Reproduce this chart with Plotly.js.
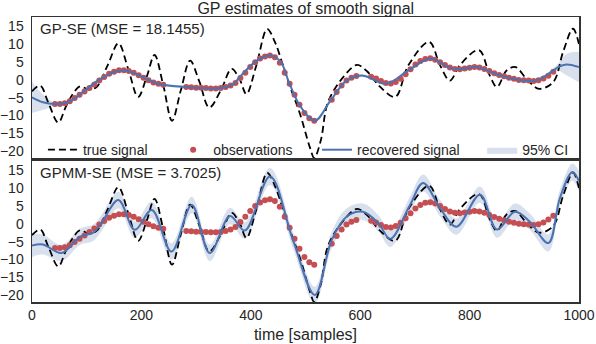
<!DOCTYPE html>
<html>
<head>
<meta charset="utf-8">
<script src="https://cdn.plot.ly/plotly-3.0.1.min.js"></script>
<style>
  html, body { margin: 0; padding: 0; background: #fff; }
  #chart { width: 596px; height: 344px; }
</style>
</head>
<body>
<div id="chart"></div>
<script>
// true signal (same in both panels), read at its turning points
var trueX = [0, 15, 30, 48, 62, 75, 88, 103, 118, 138, 158, 176, 194, 210, 224, 240, 256, 272, 289, 306, 324, 345, 365, 380, 392, 410, 430, 444, 458, 472, 490, 508, 516, 528, 541, 569, 594, 612, 636, 664, 688, 726, 746, 764, 782, 817, 837, 850, 868, 884, 904, 927, 953, 971, 989, 1000];
var trueY = [-3.2, -1.6, -6.5, -12, -7.5, -3.9, -1.8, -2.7, -2, 4, 10.3, 3, -4.8, 1, 7, -1.5, -11.5, -3, 5.4, -0.5, -7.8, -3, 3.1, 0, -4, 4, 14.3, 10.7, 4.5, -2, -9.6, -19, -22, -17, -6.3, 0.8, 4.2, 2.5, -1.9, -4.8, 4.1, 10.7, 4.1, -0.2, 4.1, 8.4, 1.2, -2, 2.7, 3.6, 0.3, -2.5, -0.6, 7.9, 14.4, 10];

// observations
var obsX = [42, 51, 60, 69, 78, 87, 96, 105, 114, 123, 132, 141, 150, 159, 168, 177, 186, 195, 204, 213, 222, 231, 240,
  282, 291, 300, 309, 318, 327, 336, 345, 354, 363, 372, 381, 390, 399, 408, 417, 426, 435, 444, 453, 462, 471, 480, 489, 498, 507, 516,
  548, 557, 566, 575, 584, 593,
  620, 629, 638, 647, 656, 665, 674, 683, 692, 701, 710, 719, 728, 737, 746, 755, 764, 773, 782, 791, 800, 809, 818, 827, 836, 845, 854, 863, 872, 881, 890, 899, 908, 917, 926, 935, 944, 953];
var obsY = [-6.8, -6.8, -6.6, -6.0, -5.1, -4.2, -3.3, -2.3, -1.3, -0.2, 0.8, 1.7, 2.3, 2.7, 2.7, 2.5, 2.0, 1.3, 0.6, -0.1, -0.7, -1.1, -1.4,
  -2.0, -2.1, -2.2, -2.2, -2.3, -2.4, -2.4, -2.3, -2.0, -1.6, -0.9, 0.5, 2.0, 3.6, 5.0, 6.0, 6.6, 6.9, 6.4, 4.8, 2.0, -1.1, -4.2, -7.0, -9.3, -10.8, -11.5,
  -5.6, -3.4, -1.6, -0.2, 0.6, 1.1,
  0.9, 0.4, -0.3, -0.9, -1.0, -0.6, 0.3, 1.6, 3.0, 4.3, 5.3, 5.9, 6.1, 5.7, 5.0, 4.2, 3.5, 3.1, 3.0, 3.2, 3.4, 3.6, 3.5, 3.1, 2.5, 1.9, 1.4, 1.0, 0.6, 0.3, 0.0, -0.1, -0.2, -0.3, -0.1, 0.4, 1.2, 2.3];

// GP-SE recovered signal and 95% CI half width
var seX = [0, 20, 42, 70, 95, 125, 165, 200, 230, 280, 340, 365, 385, 410, 437, 455, 470, 490, 517, 545, 575, 605, 648, 690, 730, 760, 780, 813, 850, 880, 920, 950, 962, 977, 1000];
var seY = [-4.9, -6.3, -6.8, -6, -3.2, 0.3, 2.7, 1.0, -1.1, -2.0, -2.4, -1.5, 1.7, 5.3, 6.9, 5.0, -0.8, -7.3, -11.5, -6.0, -0.2, 1.2, -1.1, 2.9, 6.0, 3.6, 3.0, 3.6, 1.5, 0.3, -0.2, 2.3, 3.6, 4.3, 3.6];
var seHalf = [4.4, 2.2, 0.5, 0.35, 0.35, 0.35, 0.35, 0.35, 0.35, 0.4, 0.35, 0.35, 0.35, 0.35, 0.35, 0.35, 0.35, 0.35, 0.4, 0.5, 0.4, 0.4, 0.4, 0.35, 0.35, 0.35, 0.35, 0.35, 0.35, 0.35, 0.35, 0.5, 1.0, 3.0, 4.3];

// GPMM-SE recovered signal and 95% CI half width
var mmX = [0, 20, 54, 88, 112, 127, 158, 188, 219, 255, 292, 325, 362, 389, 435, 478, 517, 548, 575, 605, 633, 655, 691, 715, 746, 776, 819, 850, 883, 910, 944, 965, 988, 1000];
var mmY = [-6.1, -5.8, -8.2, -3.6, -2.5, 0.2, 6.7, -1.7, 3.9, -7.8, 5.3, -8.2, 2.2, -1.9, 13.3, -5, -20, -4.5, 2.0, 3.4, 0.2, -4.2, 5.3, 11.5, 4.4, -0.8, 8.2, -1.6, 3.4, 0.6, -5.4, 7.2, 14.6, 12];
var mmHalf = [3.3, 2.8, 2.3, 2.3, 2.3, 2.3, 2.3, 2.3, 2.3, 2.3, 2.3, 2.3, 2.3, 2.3, 2.4, 2.3, 2.3, 2.3, 2.3, 2.3, 2.3, 2.3, 2.3, 2.4, 2.3, 2.3, 2.3, 2.3, 2.3, 2.3, 2.4, 2.3, 2.4, 2.8];

var yTicks = [-20, -15, -10, -5, 0, 5, 10, 15];
var xTicks = [0, 200, 400, 600, 800, 1000];

var black = '#000000', red = '#C44E52', blue = '#4C72B0', band = 'rgba(76,114,176,0.22)';

function addHalf(m, h, s) {
  return m.map(function (v, i) { return v + s * h[i]; });
}

function panel(xa, ya, mx, my, mh, first) {
  return [
    { x: mx, y: addHalf(my, mh, -1), xaxis: xa, yaxis: ya, type: 'scatter', mode: 'lines',
      line: { width: 0, shape: 'spline' }, showlegend: false, hoverinfo: 'skip' },
    { x: mx, y: addHalf(my, mh, 1), xaxis: xa, yaxis: ya, type: 'scatter', mode: 'lines',
      line: { width: 0, shape: 'spline' }, fill: 'tonexty', fillcolor: band,
      name: '95% CI', legend: 'legend4', showlegend: first },
    { x: trueX, y: trueY, xaxis: xa, yaxis: ya, type: 'scatter', mode: 'lines',
      line: { color: black, width: 1.8, dash: '7px,4px', shape: 'spline' },
      name: 'true signal', legend: 'legend', showlegend: first },
    { x: obsX, y: obsY, xaxis: xa, yaxis: ya, type: 'scatter', mode: 'markers',
      marker: { color: red, size: 6 },
      name: 'observations', legend: 'legend2', showlegend: first },
    { x: mx, y: my, xaxis: xa, yaxis: ya, type: 'scatter', mode: 'lines',
      line: { color: blue, width: 2, shape: 'spline' },
      name: 'recovered signal', legend: 'legend3', showlegend: first }
  ];
}

var data = panel('x', 'y', seX, seY, seHalf, true).concat(panel('x2', 'y2', mmX, mmY, mmHalf, false));

var font = { family: 'Liberation Sans, Arial, sans-serif', size: 14, color: '#262626' };

function yax(dom) {
  return {
    domain: dom, range: [-22, 17.7], tickvals: yTicks, ticks: '', showgrid: false, zeroline: false,
    showline: true, mirror: true, linecolor: '#333', linewidth: 1.5, ticklabelstandoff: 4
  };
}

function leg(x) {
  return { x: x, y: 0.533, xanchor: 'left', yanchor: 'middle', orientation: 'h',
    bgcolor: 'rgba(0,0,0,0)', font: { size: 14 } };
}

var layout = {
  width: 596, height: 344,
  margin: { l: 32, r: 17, t: 17, b: 42 },
  font: font,
  paper_bgcolor: 'white', plot_bgcolor: 'white',
  title: { text: 'GP estimates of smooth signal', font: { size: 16 }, x: 0.513, xanchor: 'center', y: 0.975, yanchor: 'middle', yref: 'container' },
  xaxis: { anchor: 'y', range: [0, 1000], tickvals: xTicks, showticklabels: false, ticks: '', showgrid: false, zeroline: false,
    showline: true, mirror: true, linecolor: '#333', linewidth: 1.5 },
  yaxis: yax([0.505, 1]),
  xaxis2: { anchor: 'y2', range: [0, 1000], tickvals: xTicks, ticks: '', showgrid: false, zeroline: false,
    showline: true, mirror: true, linecolor: '#333', linewidth: 1.5,
    title: { text: 'time [samples]', font: { size: 16 }, standoff: 6 } },
  yaxis2: yax([0, 0.495]),
  showlegend: true,
  legend: leg(0.02),
  legend2: leg(0.258),
  legend3: leg(0.521),
  legend4: leg(0.823),
  annotations: [
    { text: 'GP-SE (MSE = 18.1455)', xref: 'paper', yref: 'paper', x: 0.011, y: 0.958, xanchor: 'left', yanchor: 'middle', showarrow: false, font: { size: 15 } },
    { text: 'GPMM-SE (MSE = 3.7025)', xref: 'paper', yref: 'paper', x: 0.011, y: 0.453, xanchor: 'left', yanchor: 'middle', showarrow: false, font: { size: 15 } }
  ]
};

Plotly.newPlot('chart', data, layout, { displayModeBar: false, staticPlot: true });
</script>
</body>
</html>
